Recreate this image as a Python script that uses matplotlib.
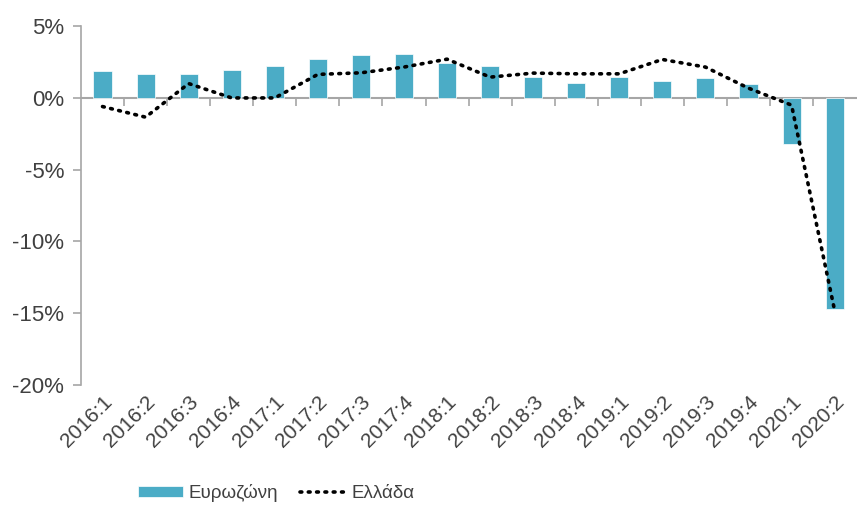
import matplotlib
matplotlib.use("Agg")
from matplotlib import pyplot as plt
from matplotlib.ticker import FixedLocator, FuncFormatter, NullFormatter
import numpy as np

quarters = ["2016:1", "2016:2", "2016:3", "2016:4", "2017:1", "2017:2",
            "2017:3", "2017:4", "2018:1", "2018:2", "2018:3", "2018:4",
            "2019:1", "2019:2", "2019:3", "2019:4", "2020:1", "2020:2"]
eurozone = [1.87, 1.7, 1.7, 1.96, 2.2, 2.7, 2.96, 3.05, 2.45, 2.2, 1.43, 1.03,
            1.43, 1.2, 1.36, 0.94, -3.2, -14.7]
greece = [-0.6, -1.34, 1.0, 0.0, 0.0, 1.64, 1.75, 2.15, 2.7, 1.45, 1.73, 1.68,
          1.68, 2.68, 2.15, 0.68, -0.5, -14.8]

plt.rcParams['font.family'] = ['Liberation Sans', 'DejaVu Sans']
text_col = '#404040'
axis_col = '#a6a6a6'

fig = plt.figure(figsize=(8.57, 5.13), dpi=100)
ax = fig.add_axes([0.0945, 0.2495, 0.9045, 0.6995])

x = np.arange(len(quarters))
bars = ax.bar(x, eurozone, width=0.42, color='#4bacc6', edgecolor='white',
              linewidth=0.5, label='Ευρωζώνη', zorder=2)
line, = ax.plot(x, greece, color='black', linestyle=(0, (0.5, 1.8)),
                linewidth=2.6, dash_capstyle='round', label='Ελλάδα', zorder=3)

ax.set_xlim(-0.5, len(quarters) - 0.5)
ax.set_ylim(-20, 5)
ax.set_yticks([5, 0, -5, -10, -15, -20])
ax.yaxis.set_major_formatter(FuncFormatter(lambda v, p: f"{v:.0f}%"))

for s in ['top', 'right', 'bottom']:
    ax.spines[s].set_visible(False)
ax.spines['left'].set_color(axis_col)
ax.spines['left'].set_linewidth(1.2)
ax.tick_params(axis='y', colors=axis_col, labelcolor=text_col, labelsize=16,
               length=6, width=1.2, pad=6)

ax.set_xticks(x)
ax.set_xticklabels(quarters, rotation=45, ha='right', rotation_mode='anchor',
                   fontsize=15, color=text_col)
ax.tick_params(axis='x', length=0, pad=5)

# category axis crossing at zero (secondary axis sits on its 'top' side here)
zero_pos = (0 - (-20)) / 25.0
sec = ax.secondary_xaxis(zero_pos)
for s in ['top', 'bottom']:
    sec.spines[s].set_color(axis_col)
    sec.spines[s].set_linewidth(1.5)
sec.xaxis.set_major_locator(FixedLocator(x[1:] - 0.5))
sec.xaxis.set_major_formatter(NullFormatter())
sec.tick_params(axis='x', direction='in', length=6, width=1.2,
                colors=axis_col)

leg = fig.legend([bars, line], ['Ευρωζώνη', 'Ελλάδα'], loc='lower center',
                 bbox_to_anchor=(0.322, -0.012), ncol=2, frameon=False,
                 fontsize=13.5, handlelength=2.4, handleheight=0.5,
                 columnspacing=1.2, handletextpad=0.3)
for t in leg.get_texts():
    t.set_color(text_col)

fig.savefig('out.png', dpi=100)
